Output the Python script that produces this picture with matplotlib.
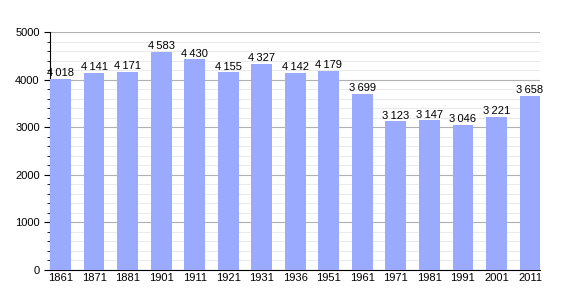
import numpy as np
import matplotlib
matplotlib.use('Agg')
import matplotlib.pyplot as plt

plt.rcParams['font.family'] = ['Liberation Sans', 'DejaVu Sans']

years = ['1861', '1871', '1881', '1901', '1911', '1921', '1931', '1936',
         '1951', '1961', '1971', '1981', '1991', '2001', '2011']
population = [4018, 4141, 4171, 4583, 4430, 4155, 4327, 4142,
              4179, 3699, 3123, 3147, 3046, 3221, 3658]

fig = plt.figure(figsize=(5.7, 3.0), dpi=100)
ax = fig.add_axes([0.088, 0.1, 0.86, 0.793])

x = np.arange(len(years))
ax.bar(x, population, width=0.62, color='#99aaff', zorder=3)

for xi, v in zip(x, population):
    txt = f'{v:,}'.replace(',', '\u2009')
    ax.text(xi, v + 15, txt, ha='center', va='bottom', fontsize=8, zorder=4)

ax.set_xlim(-0.31, len(years) - 1 + 0.31)
ax.set_ylim(0, 5000)
ax.set_xticks(x)
ax.set_xticklabels(years, fontsize=8)
ax.set_yticks(np.arange(0, 5001, 1000))
ax.set_yticks(np.arange(0, 5001, 200), minor=True)
ax.tick_params(axis='y', labelsize=8)
ax.tick_params(axis='x', length=0, pad=2)
ax.tick_params(axis='y', which='major', length=4)
ax.tick_params(axis='y', which='minor', length=2)

ax.grid(axis='y', which='major', color='#b0b0b0', linewidth=0.8, zorder=0)
ax.grid(axis='y', which='minor', color='#e6e6e6', linewidth=0.6, zorder=0)

ax.spines['top'].set_visible(False)
ax.spines['right'].set_visible(False)

plt.savefig('out.png', dpi=100)
